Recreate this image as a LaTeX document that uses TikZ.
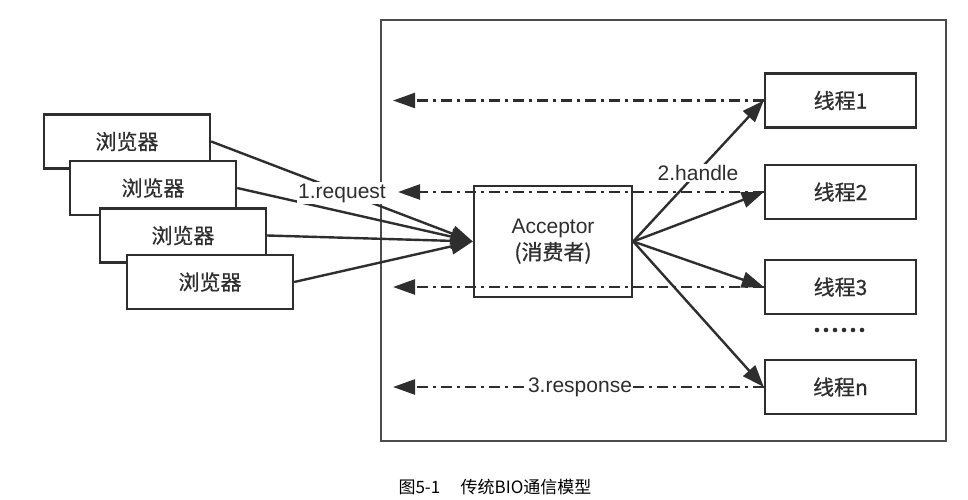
\documentclass[tikz,border=0pt]{standalone}
\usepackage{fontspec}
\setmainfont{Liberation Sans}
\newfontfamily\cjk{Noto Sans CJK SC}[FakeBold=0.6]
\newfontfamily\cjkcap{Noto Sans CJK SC}
\usetikzlibrary{arrows.meta}
\definecolor{ink}{HTML}{2E2E2E}
\begin{document}
\begin{tikzpicture}[x=1pt,y=-1pt,
  box/.style={draw=ink,line width=2.4pt,fill=white,inner sep=0pt,text=ink,font=\fontsize{21}{25}\selectfont},
  bbox/.style={box,minimum width=166pt,minimum height=54pt},
  tbox/.style={box,minimum width=151pt,minimum height=54pt},
  solidarrow/.style={draw=ink,line width=2.4pt,-{Triangle[length=22pt,width=16pt]}},
  dasharrow/.style={draw=ink,line width=2.4pt,dash pattern=on 11pt off 5pt on 3pt off 5pt,-{Triangle[length=22pt,width=15pt]}},
  lbl/.style={fill=white,inner sep=1.5pt,text=ink,font=\fontsize{21}{25}\selectfont}]
\useasboundingbox (0,0) rectangle (968,500);
% outer container
\draw[draw=black!70,line width=2.8pt] (381,20) rectangle (946,441);
% browsers
\node[bbox] (b1) at (127,141.5) {\cjk 浏览器};
\node[bbox] (b2) at (153,188) {\cjk 浏览器};
\node[bbox] (b3) at (183,235.5) {\cjk 浏览器};
\node[bbox] (b4) at (210,282) {\cjk 浏览器};
% acceptor
\node[box,minimum width=158pt,minimum height=111pt,align=center,font=\fontsize{21}{26}\selectfont] (acc) at (553,241.5) {Acceptor\\{\cjk (消费者)}};
% threads
\node[tbox] (t1) at (840.5,100.5) {\cjk 线程1};
\node[tbox] (t2) at (840.5,192) {\cjk 线程2};
\node[tbox] (t3) at (840.5,287) {\cjk 线程3};
\node[tbox] (tn) at (840.5,387) {\cjk 线程n};
% request arrows
\foreach \b in {b1,b2,b3,b4} \draw[solidarrow] (\b.east) -- (acc.west);
\node[lbl] (req) at (342,193) {1.request};
% return arrows
\coordinate (d1) at (393,100.5);
\coordinate (d2) at (398,192);
\coordinate (d3) at (393,287);
\coordinate (dn) at (393,387);
\draw[dasharrow] (t1.west) -- (d1);
\draw[dasharrow] (t2.west) -- (d2);
\draw[dasharrow] (t3.west) -- (d3);
\draw[dasharrow] (tn.west) -- (dn);
\node[lbl,inner sep=1pt] (resp) at (580,387) {3.response};
% handle arrows
\foreach \t in {t1,t2,t3,tn} \draw[solidarrow] (acc.east) -- (\t.west);
\node[lbl] (hdl) at (698,173) {2.handle};
% ellipsis
\foreach \i in {0,...,5} \fill[ink] (817+\i*9,330) circle (2.3pt);
% caption
\node[font=\fontsize{17}{20}\selectfont\cjkcap,text=black] (cap) at (495,487) {图5-1\hspace{1.2em}传统BIO通信模型};
\end{tikzpicture}
\end{document}
